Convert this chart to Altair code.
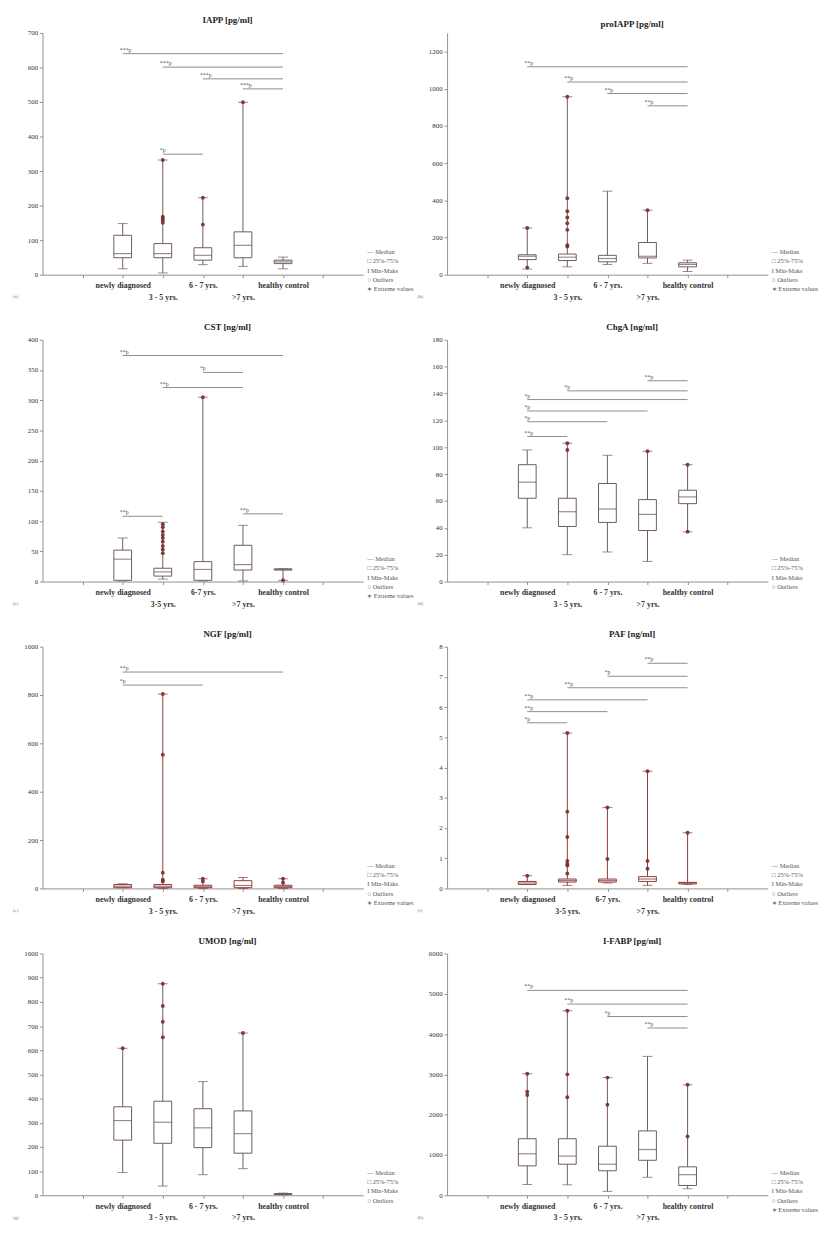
import json
import altair as alt
import pandas as pd

W, H = 325, 245
BOX_COL = "#6f5a5a"
RED_COL = "#8e3b3b"
PT_COL = "#7b2c2c"
SIG_COL = "#8c8c8c"
AXIS_COL = "#8f8f8f"
FONT = "Liberation Serif"

CATS_A = ["newly diagnosed", "3 - 5 yrs.", "6 - 7 yrs.", ">7 yrs.", "healthy control"]
CATS_B = ["newly diagnosed", "3-5 yrs.", "6-7 yrs.", ">7 yrs.", "healthy control"]
LEG5 = ["\u2014 Median", "\u25a1 25%-75%", "I  Min-Maks", "\u25cb Outliers", "\u2217 Extreme values"]
LEG4 = LEG5[:4]

# (a) IAPP
IAPP_MIN = [17, 5, 29, 24, 17]
IAPP_Q1 = [49, 49, 42, 49, 32]
IAPP_MED = [61, 61, 56, 85, 37]
IAPP_Q3 = [114, 90, 78, 124, 42]
IAPP_MAX = [148, 332, 223, 499, 51]
IAPP_OUT_I = [1, 1, 1, 1, 1, 2, 2, 3]
IAPP_OUT_V = [150, 157, 163, 168, 332, 145, 223, 499]
IAPP_SIG_A = [0, 1, 2, 3, 1]
IAPP_SIG_B = [4, 4, 4, 4, 2]
IAPP_SIG_Y = [640, 601, 567, 538, 349]
IAPP_SIG_T = ["***p", "***p", "***p", "***p", "*p"]

# (b) proIAPP
PRO_MIN = [30, 42, 55, 61, 17]
PRO_Q1 = [81, 76, 69, 90, 42]
PRO_MED = [99, 94, 87, 99, 55]
PRO_Q3 = [107, 111, 104, 173, 64]
PRO_MAX = [251, 957, 449, 347, 78]
PRO_OUT_I = [0, 0, 1, 1, 1, 1, 1, 1, 1, 1, 3]
PRO_OUT_V = [251, 38, 957, 411, 341, 307, 277, 241, 159, 151, 347]
PRO_SIG_A = [0, 1, 2, 3]
PRO_SIG_B = [4, 4, 4, 4]
PRO_SIG_Y = [1118, 1036, 974, 908]
PRO_SIG_T = ["**p", "**p", "**p", "**p"]

# (c) CST
CST_MIN = [1, 4, 1, 1, 2]
CST_Q1 = [2, 9, 2, 19, 19]
CST_MED = [37, 16, 20, 28, 20]
CST_Q3 = [52, 22, 33, 60, 21]
CST_MAX = [72, 98, 305, 93, 21]
CST_OUT_I = [1, 1, 1, 1, 1, 1, 1, 1, 1, 2, 4]
CST_OUT_V = [95, 90, 83, 77, 72, 66, 59, 53, 47, 305, 2]
CST_SIG_A = [0, 2, 1, 0, 3]
CST_SIG_B = [4, 3, 3, 1, 4]
CST_SIG_Y = [374, 346, 321, 108, 112]
CST_SIG_T = ["**p", "*p", "**p", "**p", "**p"]

# (d) ChgA
CHG_MIN = [40, 20, 22, 15, 37]
CHG_Q1 = [62, 41, 44, 38, 58]
CHG_MED = [74, 52, 54, 50, 63]
CHG_Q3 = [87, 62, 73, 61, 68]
CHG_MAX = [98, 103, 94, 97, 87]
CHG_OUT_I = [1, 1, 3, 4, 4]
CHG_OUT_V = [103, 98, 97, 87, 37]
CHG_SIG_A = [3, 1, 0, 0, 0, 0]
CHG_SIG_B = [4, 4, 4, 3, 2, 1]
CHG_SIG_Y = [149.5, 142, 135.5, 127, 119, 108]
CHG_SIG_T = ["**p", "*p", "*p", "*p", "*p", "**p"]

# (e) NGF
NGF_MIN = [3, 0, 0, 0, 0]
NGF_Q1 = [3, 3, 3, 3, 3]
NGF_MED = [9, 9, 7, 12, 8]
NGF_Q3 = [16, 16, 13, 32, 13]
NGF_MAX = [19, 804, 40, 45, 40]
NGF_OUT_I = [1, 1, 1, 1, 1, 2, 2, 4, 4]
NGF_OUT_V = [804, 553, 65, 36, 29, 40, 29, 40, 23]
NGF_SIG_A = [0, 0]
NGF_SIG_B = [4, 2]
NGF_SIG_Y = [895, 841]
NGF_SIG_T = ["**p", "*p"]

# (f) PAF
PAF_MIN = [0.13, 0.10, 0.18, 0.10, 0.13]
PAF_Q1 = [0.13, 0.21, 0.21, 0.23, 0.15]
PAF_MED = [0.18, 0.26, 0.26, 0.31, 0.18]
PAF_Q3 = [0.23, 0.31, 0.31, 0.39, 0.20]
PAF_MAX = [0.42, 5.14, 2.68, 3.88, 1.84]
PAF_OUT_I = [0, 1, 1, 1, 1, 1, 1, 1, 2, 2, 3, 3, 3, 4]
PAF_OUT_V = [0.42, 5.14, 2.54, 1.70, 0.91, 0.81, 0.76, 0.49, 2.68, 0.97, 3.88, 0.91, 0.65, 1.84]
PAF_SIG_A = [3, 2, 1, 0, 0, 0]
PAF_SIG_B = [4, 4, 4, 3, 2, 1]
PAF_SIG_Y = [7.45, 7.02, 6.64, 6.24, 5.85, 5.48]
PAF_SIG_T = ["**p", "*p", "**p", "**p", "**p", "*p"]

# (g) UMOD
UMOD_MIN = [94, 38, 85, 110, 2]
UMOD_Q1 = [228, 215, 197, 174, 3]
UMOD_MED = [309, 302, 279, 255, 5]
UMOD_Q3 = [366, 389, 358, 349, 7]
UMOD_MAX = [608, 875, 470, 671, 9]
UMOD_OUT_I = [0, 1, 1, 1, 1, 3]
UMOD_OUT_V = [608, 875, 783, 718, 654, 671]

# (h) I-FABP
FABP_MIN = [268, 260, 97, 446, 162]
FABP_Q1 = [730, 770, 608, 868, 243]
FABP_MED = [1030, 973, 770, 1135, 511]
FABP_Q3 = [1403, 1403, 1217, 1598, 706]
FABP_MAX = [3017, 4582, 2920, 3447, 2741]
FABP_OUT_I = [0, 0, 0, 1, 1, 1, 2, 2, 4, 4]
FABP_OUT_V = [3017, 2571, 2490, 4582, 3001, 2433, 2920, 2247, 2741, 1460]
FABP_SIG_A = [0, 1, 2, 3]
FABP_SIG_B = [4, 4, 4, 4]
FABP_SIG_Y = [5085, 4745, 4436, 4152]
FABP_SIG_T = ["**p", "**p", "*p", "**p"]


def panel(title, letter, cats, ymax, ystep, ytop, mins, q1, med, q3, mx,
          out_i, out_v, sig_a=None, sig_b=None, sig_y=None, sig_t=None,
          legend=LEG5, col=BOX_COL):
    domain = [" "] + cats + ["  "]
    xs = alt.Scale(type="point", domain=domain, padding=1)
    lower = json.dumps([cats[1], cats[3]])
    xaxis = alt.Axis(
        title=None, labelAngle=0, labelFontSize=8, labelFontWeight="bold",
        labelLineHeight=12, labelPadding=4, tickSize=3,
        labelExpr=f"indexof({lower}, datum.value) >= 0 ? ['', datum.value] : datum.value",
    )
    ys = alt.Scale(domain=[0, ymax], nice=False, zero=True)
    vals = []
    v = 0
    while v <= ytop + 1e-9:
        vals.append(round(v, 6))
        v += ystep
    yaxis = alt.Axis(title=None, values=vals, tickSize=3, labelFontSize=7,
                     labelPadding=2, format="d")

    X = alt.X("cat:N", scale=xs, axis=xaxis)
    box_df = pd.DataFrame({"cat": cats, "lo": mins, "q1": q1, "med": med, "q3": q3, "hi": mx})
    base = alt.Chart(box_df)
    layers = [
        base.mark_rule(color=col, strokeWidth=1).encode(
            x=X, y=alt.Y("lo:Q", scale=ys, axis=yaxis), y2="hi:Q"),
        base.mark_tick(color=col, size=10, thickness=1).encode(
            x=X, y=alt.Y("lo:Q", scale=ys, axis=yaxis)),
        base.mark_tick(color=col, size=10, thickness=1).encode(
            x=X, y=alt.Y("hi:Q", scale=ys, axis=yaxis)),
        base.mark_bar(size=18, fill="white", stroke=col, strokeWidth=1).encode(
            x=X, y=alt.Y("q1:Q", scale=ys, axis=yaxis), y2="q3:Q"),
        base.mark_tick(color=col, size=18, thickness=1.2).encode(
            x=X, y=alt.Y("med:Q", scale=ys, axis=yaxis)),
    ]
    out_df = pd.DataFrame({"cat": [cats[i] for i in out_i], "v": out_v})
    layers.append(
        alt.Chart(out_df).mark_point(filled=True, size=16, color=PT_COL, opacity=0.9).encode(
            x=X, y=alt.Y("v:Q", scale=ys, axis=yaxis))
    )
    if sig_a:
        sig_df = pd.DataFrame({
            "a": [cats[i] for i in sig_a],
            "b": [cats[i] for i in sig_b],
            "y": sig_y, "t": sig_t,
        })
        sb = alt.Chart(sig_df)
        layers.append(sb.mark_rule(color=SIG_COL, strokeWidth=1).encode(
            x=X, x2="b:N", y=alt.Y("y:Q", scale=ys, axis=yaxis)).transform_calculate(cat="datum.a"))
        layers.append(sb.mark_text(align="left", baseline="bottom", dx=-3, dy=-1,
                                   fontSize=6, color="#555").encode(
            x=X, y=alt.Y("y:Q", scale=ys, axis=yaxis), text="t:N").transform_calculate(cat="datum.a"))
    one = alt.Chart(pd.DataFrame({"k": [0]}))
    layers.append(one.mark_text(text=legend, align="left", baseline="top", fontSize=6.5,
                                lineHeight=9.5, color="#555").encode(
        x=alt.value(W + 4), y=alt.value(H - 26)))
    layers.append(one.mark_text(text=f"({letter})", align="left", baseline="middle",
                                fontSize=5, color="#777").encode(
        x=alt.value(-30), y=alt.value(H + 22)))
    return alt.layer(*layers).properties(
        width=W, height=H,
        title=alt.TitleParams(title, fontSize=9, fontWeight="bold", font=FONT,
                              color="#222", dx=25, offset=4, anchor="middle"),
    )


p1 = panel("IAPP [pg/ml]", "a", CATS_A, 700, 100, 700, IAPP_MIN, IAPP_Q1, IAPP_MED, IAPP_Q3, IAPP_MAX,
           IAPP_OUT_I, IAPP_OUT_V, IAPP_SIG_A, IAPP_SIG_B, IAPP_SIG_Y, IAPP_SIG_T)
p2 = panel("proIAPP [pg/ml]", "b", CATS_A, 1300, 200, 1200, PRO_MIN, PRO_Q1, PRO_MED, PRO_Q3, PRO_MAX,
           PRO_OUT_I, PRO_OUT_V, PRO_SIG_A, PRO_SIG_B, PRO_SIG_Y, PRO_SIG_T)
p3 = panel("CST [ng/ml]", "c", CATS_B, 400, 50, 400, CST_MIN, CST_Q1, CST_MED, CST_Q3, CST_MAX,
           CST_OUT_I, CST_OUT_V, CST_SIG_A, CST_SIG_B, CST_SIG_Y, CST_SIG_T)
p4 = panel("ChgA [ng/ml]", "d", CATS_A, 180, 20, 180, CHG_MIN, CHG_Q1, CHG_MED, CHG_Q3, CHG_MAX,
           CHG_OUT_I, CHG_OUT_V, CHG_SIG_A, CHG_SIG_B, CHG_SIG_Y, CHG_SIG_T, legend=LEG4)
p5 = panel("NGF [pg/ml]", "e", CATS_A, 1000, 200, 1000, NGF_MIN, NGF_Q1, NGF_MED, NGF_Q3, NGF_MAX,
           NGF_OUT_I, NGF_OUT_V, NGF_SIG_A, NGF_SIG_B, NGF_SIG_Y, NGF_SIG_T, col=RED_COL)
p6 = panel("PAF [ng/ml]", "f", CATS_B, 8, 1, 8, PAF_MIN, PAF_Q1, PAF_MED, PAF_Q3, PAF_MAX,
           PAF_OUT_I, PAF_OUT_V, PAF_SIG_A, PAF_SIG_B, PAF_SIG_Y, PAF_SIG_T, col=RED_COL)
p7 = panel("UMOD [ng/ml]", "g", CATS_A, 1000, 100, 1000, UMOD_MIN, UMOD_Q1, UMOD_MED, UMOD_Q3, UMOD_MAX,
           UMOD_OUT_I, UMOD_OUT_V, legend=LEG4)
p8 = panel("I-FABP [pg/ml]", "h", CATS_A, 6000, 1000, 6000, FABP_MIN, FABP_Q1, FABP_MED, FABP_Q3, FABP_MAX,
           FABP_OUT_I, FABP_OUT_V, FABP_SIG_A, FABP_SIG_B, FABP_SIG_Y, FABP_SIG_T)

chart = alt.concat(p1, p2, p3, p4, p5, p6, p7, p8, columns=2,
                   spacing={"row": 66, "column": 85}, bounds="flush",
                   padding={"left": 5, "top": 0, "right": 5, "bottom": 5}).configure(
    font=FONT, background="white"
).configure_view(stroke=None).configure_axis(
    grid=False, domainColor=AXIS_COL, tickColor=AXIS_COL, labelColor="#333",
    labelFont=FONT, domainWidth=1,
)

chart.save("out.html", embed_options={"renderer": "svg", "actions": False})
